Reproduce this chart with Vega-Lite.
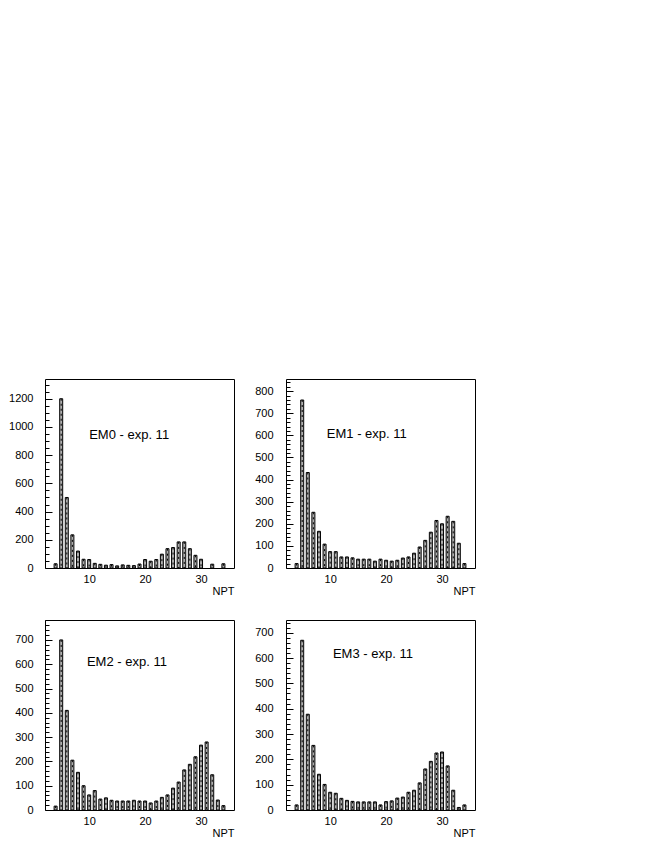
{
  "$schema": "https://vega.github.io/schema/vega-lite/v6.json",
  "padding": {"left": 4, "top": 378, "right": 0, "bottom": 0},
  "background": "white",
  "config": {
    "font": "Liberation Sans",
    "view": {"stroke": "black", "strokeWidth": 1},
    "axis": {"labelFont": "Liberation Sans", "labelFontSize": 11, "labelColor": "black", "titleFont": "Liberation Sans", "titleFontSize": 11, "titleFontWeight": "normal", "titleColor": "black", "grid": false, "domain": false, "tickColor": "black", "format": "d"}
  },
  "datasets": {
    "npt": [
      {"panel": "EM0", "npt": 4, "count": 30}, {"panel": "EM0", "npt": 5, "count": 1200}, {"panel": "EM0", "npt": 6, "count": 500}, {"panel": "EM0", "npt": 7, "count": 235}, {"panel": "EM0", "npt": 8, "count": 120}, {"panel": "EM0", "npt": 9, "count": 62}, {"panel": "EM0", "npt": 10, "count": 60}, {"panel": "EM0", "npt": 11, "count": 33}, {"panel": "EM0", "npt": 12, "count": 26}, {"panel": "EM0", "npt": 13, "count": 20}, {"panel": "EM0", "npt": 14, "count": 24}, {"panel": "EM0", "npt": 15, "count": 15}, {"panel": "EM0", "npt": 16, "count": 22}, {"panel": "EM0", "npt": 17, "count": 19}, {"panel": "EM0", "npt": 18, "count": 17}, {"panel": "EM0", "npt": 19, "count": 28}, {"panel": "EM0", "npt": 20, "count": 60}, {"panel": "EM0", "npt": 21, "count": 48}, {"panel": "EM0", "npt": 22, "count": 60}, {"panel": "EM0", "npt": 23, "count": 98}, {"panel": "EM0", "npt": 24, "count": 137}, {"panel": "EM0", "npt": 25, "count": 145}, {"panel": "EM0", "npt": 26, "count": 185}, {"panel": "EM0", "npt": 27, "count": 185}, {"panel": "EM0", "npt": 28, "count": 137}, {"panel": "EM0", "npt": 29, "count": 90}, {"panel": "EM0", "npt": 30, "count": 62}, {"panel": "EM0", "npt": 32, "count": 27}, {"panel": "EM0", "npt": 34, "count": 30},
      {"panel": "EM1", "npt": 4, "count": 20}, {"panel": "EM1", "npt": 5, "count": 760}, {"panel": "EM1", "npt": 6, "count": 432}, {"panel": "EM1", "npt": 7, "count": 252}, {"panel": "EM1", "npt": 8, "count": 166}, {"panel": "EM1", "npt": 9, "count": 108}, {"panel": "EM1", "npt": 10, "count": 74}, {"panel": "EM1", "npt": 11, "count": 74}, {"panel": "EM1", "npt": 12, "count": 50}, {"panel": "EM1", "npt": 13, "count": 50}, {"panel": "EM1", "npt": 14, "count": 46}, {"panel": "EM1", "npt": 15, "count": 40}, {"panel": "EM1", "npt": 16, "count": 40}, {"panel": "EM1", "npt": 17, "count": 40}, {"panel": "EM1", "npt": 18, "count": 31}, {"panel": "EM1", "npt": 19, "count": 40}, {"panel": "EM1", "npt": 20, "count": 35}, {"panel": "EM1", "npt": 21, "count": 31}, {"panel": "EM1", "npt": 22, "count": 35}, {"panel": "EM1", "npt": 23, "count": 45}, {"panel": "EM1", "npt": 24, "count": 50}, {"panel": "EM1", "npt": 25, "count": 67}, {"panel": "EM1", "npt": 26, "count": 95}, {"panel": "EM1", "npt": 27, "count": 125}, {"panel": "EM1", "npt": 28, "count": 162}, {"panel": "EM1", "npt": 29, "count": 215}, {"panel": "EM1", "npt": 30, "count": 200}, {"panel": "EM1", "npt": 31, "count": 234}, {"panel": "EM1", "npt": 32, "count": 211}, {"panel": "EM1", "npt": 33, "count": 112}, {"panel": "EM1", "npt": 34, "count": 20},
      {"panel": "EM2", "npt": 4, "count": 16}, {"panel": "EM2", "npt": 5, "count": 700}, {"panel": "EM2", "npt": 6, "count": 410}, {"panel": "EM2", "npt": 7, "count": 205}, {"panel": "EM2", "npt": 8, "count": 155}, {"panel": "EM2", "npt": 9, "count": 100}, {"panel": "EM2", "npt": 10, "count": 62}, {"panel": "EM2", "npt": 11, "count": 80}, {"panel": "EM2", "npt": 12, "count": 45}, {"panel": "EM2", "npt": 13, "count": 50}, {"panel": "EM2", "npt": 14, "count": 40}, {"panel": "EM2", "npt": 15, "count": 37}, {"panel": "EM2", "npt": 16, "count": 37}, {"panel": "EM2", "npt": 17, "count": 37}, {"panel": "EM2", "npt": 18, "count": 40}, {"panel": "EM2", "npt": 19, "count": 37}, {"panel": "EM2", "npt": 20, "count": 37}, {"panel": "EM2", "npt": 21, "count": 29}, {"panel": "EM2", "npt": 22, "count": 37}, {"panel": "EM2", "npt": 23, "count": 52}, {"panel": "EM2", "npt": 24, "count": 62}, {"panel": "EM2", "npt": 25, "count": 90}, {"panel": "EM2", "npt": 26, "count": 115}, {"panel": "EM2", "npt": 27, "count": 165}, {"panel": "EM2", "npt": 28, "count": 188}, {"panel": "EM2", "npt": 29, "count": 219}, {"panel": "EM2", "npt": 30, "count": 267}, {"panel": "EM2", "npt": 31, "count": 280}, {"panel": "EM2", "npt": 32, "count": 145}, {"panel": "EM2", "npt": 33, "count": 41}, {"panel": "EM2", "npt": 34, "count": 18},
      {"panel": "EM3", "npt": 4, "count": 20}, {"panel": "EM3", "npt": 5, "count": 670}, {"panel": "EM3", "npt": 6, "count": 378}, {"panel": "EM3", "npt": 7, "count": 255}, {"panel": "EM3", "npt": 8, "count": 141}, {"panel": "EM3", "npt": 9, "count": 101}, {"panel": "EM3", "npt": 10, "count": 70}, {"panel": "EM3", "npt": 11, "count": 66}, {"panel": "EM3", "npt": 12, "count": 46}, {"panel": "EM3", "npt": 13, "count": 38}, {"panel": "EM3", "npt": 14, "count": 34}, {"panel": "EM3", "npt": 15, "count": 32}, {"panel": "EM3", "npt": 16, "count": 32}, {"panel": "EM3", "npt": 17, "count": 32}, {"panel": "EM3", "npt": 18, "count": 32}, {"panel": "EM3", "npt": 19, "count": 20}, {"panel": "EM3", "npt": 20, "count": 33}, {"panel": "EM3", "npt": 21, "count": 36}, {"panel": "EM3", "npt": 22, "count": 47}, {"panel": "EM3", "npt": 23, "count": 51}, {"panel": "EM3", "npt": 24, "count": 70}, {"panel": "EM3", "npt": 25, "count": 78}, {"panel": "EM3", "npt": 26, "count": 107}, {"panel": "EM3", "npt": 27, "count": 162}, {"panel": "EM3", "npt": 28, "count": 192}, {"panel": "EM3", "npt": 29, "count": 225}, {"panel": "EM3", "npt": 30, "count": 229}, {"panel": "EM3", "npt": 31, "count": 174}, {"panel": "EM3", "npt": 32, "count": 78}, {"panel": "EM3", "npt": 33, "count": 10}, {"panel": "EM3", "npt": 34, "count": 20}
    ]
  },
  "columns": 2,
  "spacing": {"row": 22, "column": 10},
  "concat": [
    {
      "width": 189, "height": 189,
      "layer": [
        {"data": {"name": "npt"}, "transform": [{"filter": "datum.panel === 'EM0'"}], "mark": {"type": "bar", "size": 3, "fill": "#b0b0b0", "stroke": "black", "strokeWidth": 1}, "encoding": {"x": {"field": "npt", "type": "quantitative"}, "y": {"field": "count", "type": "quantitative"}, "y2": {"datum": 0}}},
        {"data": {"name": "npt"}, "transform": [{"filter": "datum.panel === 'EM0'"}], "mark": {"type": "rule", "color": "black", "strokeWidth": 1, "strokeDash": [2, 3]}, "encoding": {"x": {"field": "npt", "type": "quantitative"}, "y": {"field": "count", "type": "quantitative"}, "y2": {"datum": 0}}},
        {"data": {"values": [{"label": "EM0 - exp. 11", "x": 10, "y": 940}]}, "mark": {"type": "text", "align": "left", "baseline": "middle", "fontSize": 13, "font": "Liberation Sans", "color": "black"}, "encoding": {"x": {"field": "x", "type": "quantitative"}, "y": {"field": "y", "type": "quantitative"}, "text": {"field": "label"}}}
      ],
      "encoding": {
        "x": {"field": "npt", "type": "quantitative", "scale": {"domain": [3, 35], "nice": false, "zero": false}, "axis": {"values": [10, 20, 30], "ticks": false, "labelPadding": 5, "title": "NPT", "titleAnchor": "end", "titlePadding": 3, "minExtent": 14, "maxExtent": 14}},
        "y": {"field": "count", "type": "quantitative", "scale": {"domain": [0, 1340], "nice": false}, "axis": {"title": null, "values": [0,50,100,150,200,250,300,350,400,450,500,550,600,650,700,750,800,850,900,950,1000,1050,1100,1150,1200,1250,1300], "labelExpr": "datum.value % 200 === 0 ? datum.label : ''", "tickSize": {"condition": {"test": "datum.value % 200 === 0", "value": -7}, "value": -4}, "labelPadding": 19, "minExtent": 40, "maxExtent": 40}}
      }
    },
    {
      "width": 189, "height": 189,
      "layer": [
        {"data": {"name": "npt"}, "transform": [{"filter": "datum.panel === 'EM1'"}], "mark": {"type": "bar", "size": 3, "fill": "#b0b0b0", "stroke": "black", "strokeWidth": 1}, "encoding": {"x": {"field": "npt", "type": "quantitative"}, "y": {"field": "count", "type": "quantitative"}, "y2": {"datum": 0}}},
        {"data": {"name": "npt"}, "transform": [{"filter": "datum.panel === 'EM1'"}], "mark": {"type": "rule", "color": "black", "strokeWidth": 1, "strokeDash": [2, 3]}, "encoding": {"x": {"field": "npt", "type": "quantitative"}, "y": {"field": "count", "type": "quantitative"}, "y2": {"datum": 0}}},
        {"data": {"values": [{"label": "EM1 - exp. 11", "x": 9.4, "y": 606}]}, "mark": {"type": "text", "align": "left", "baseline": "middle", "fontSize": 13, "font": "Liberation Sans", "color": "black"}, "encoding": {"x": {"field": "x", "type": "quantitative"}, "y": {"field": "y", "type": "quantitative"}, "text": {"field": "label"}}}
      ],
      "encoding": {
        "x": {"field": "npt", "type": "quantitative", "scale": {"domain": [3, 35], "nice": false, "zero": false}, "axis": {"values": [10, 20, 30], "ticks": false, "labelPadding": 5, "title": "NPT", "titleAnchor": "end", "titlePadding": 3, "minExtent": 14, "maxExtent": 14}},
        "y": {"field": "count", "type": "quantitative", "scale": {"domain": [0, 855], "nice": false}, "axis": {"title": null, "values": [0,20,40,60,80,100,120,140,160,180,200,220,240,260,280,300,320,340,360,380,400,420,440,460,480,500,520,540,560,580,600,620,640,660,680,700,720,740,760,780,800,820,840], "labelExpr": "datum.value % 100 === 0 ? datum.label : ''", "tickSize": {"condition": {"test": "datum.value % 100 === 0", "value": -7}, "value": -4}, "labelPadding": 20, "minExtent": 40, "maxExtent": 40}}
      }
    },
    {
      "width": 189, "height": 190,
      "layer": [
        {"data": {"name": "npt"}, "transform": [{"filter": "datum.panel === 'EM2'"}], "mark": {"type": "bar", "size": 3, "fill": "#b0b0b0", "stroke": "black", "strokeWidth": 1}, "encoding": {"x": {"field": "npt", "type": "quantitative"}, "y": {"field": "count", "type": "quantitative"}, "y2": {"datum": 0}}},
        {"data": {"name": "npt"}, "transform": [{"filter": "datum.panel === 'EM2'"}], "mark": {"type": "rule", "color": "black", "strokeWidth": 1, "strokeDash": [2, 3]}, "encoding": {"x": {"field": "npt", "type": "quantitative"}, "y": {"field": "count", "type": "quantitative"}, "y2": {"datum": 0}}},
        {"data": {"values": [{"label": "EM2 - exp. 11", "x": 9.6, "y": 608}]}, "mark": {"type": "text", "align": "left", "baseline": "middle", "fontSize": 13, "font": "Liberation Sans", "color": "black"}, "encoding": {"x": {"field": "x", "type": "quantitative"}, "y": {"field": "y", "type": "quantitative"}, "text": {"field": "label"}}}
      ],
      "encoding": {
        "x": {"field": "npt", "type": "quantitative", "scale": {"domain": [3, 35], "nice": false, "zero": false}, "axis": {"values": [10, 20, 30], "ticks": false, "labelPadding": 5, "title": "NPT", "titleAnchor": "end", "titlePadding": 3, "minExtent": 14, "maxExtent": 14}},
        "y": {"field": "count", "type": "quantitative", "scale": {"domain": [0, 782], "nice": false}, "axis": {"title": null, "values": [0,20,40,60,80,100,120,140,160,180,200,220,240,260,280,300,320,340,360,380,400,420,440,460,480,500,520,540,560,580,600,620,640,660,680,700,720,740,760,780], "labelExpr": "datum.value % 100 === 0 ? datum.label : ''", "tickSize": {"condition": {"test": "datum.value % 100 === 0", "value": -7}, "value": -4}, "labelPadding": 19, "minExtent": 40, "maxExtent": 40}}
      }
    },
    {
      "width": 189, "height": 190,
      "layer": [
        {"data": {"name": "npt"}, "transform": [{"filter": "datum.panel === 'EM3'"}], "mark": {"type": "bar", "size": 3, "fill": "#b0b0b0", "stroke": "black", "strokeWidth": 1}, "encoding": {"x": {"field": "npt", "type": "quantitative"}, "y": {"field": "count", "type": "quantitative"}, "y2": {"datum": 0}}},
        {"data": {"name": "npt"}, "transform": [{"filter": "datum.panel === 'EM3'"}], "mark": {"type": "rule", "color": "black", "strokeWidth": 1, "strokeDash": [2, 3]}, "encoding": {"x": {"field": "npt", "type": "quantitative"}, "y": {"field": "count", "type": "quantitative"}, "y2": {"datum": 0}}},
        {"data": {"values": [{"label": "EM3 - exp. 11", "x": 10.5, "y": 615}]}, "mark": {"type": "text", "align": "left", "baseline": "middle", "fontSize": 13, "font": "Liberation Sans", "color": "black"}, "encoding": {"x": {"field": "x", "type": "quantitative"}, "y": {"field": "y", "type": "quantitative"}, "text": {"field": "label"}}}
      ],
      "encoding": {
        "x": {"field": "npt", "type": "quantitative", "scale": {"domain": [3, 35], "nice": false, "zero": false}, "axis": {"values": [10, 20, 30], "ticks": false, "labelPadding": 5, "title": "NPT", "titleAnchor": "end", "titlePadding": 3, "minExtent": 14, "maxExtent": 14}},
        "y": {"field": "count", "type": "quantitative", "scale": {"domain": [0, 750], "nice": false}, "axis": {"title": null, "values": [0,20,40,60,80,100,120,140,160,180,200,220,240,260,280,300,320,340,360,380,400,420,440,460,480,500,520,540,560,580,600,620,640,660,680,700,720,740], "labelExpr": "datum.value % 100 === 0 ? datum.label : ''", "tickSize": {"condition": {"test": "datum.value % 100 === 0", "value": -7}, "value": -4}, "labelPadding": 20, "minExtent": 40, "maxExtent": 40}}
      }
    }
  ]
}
